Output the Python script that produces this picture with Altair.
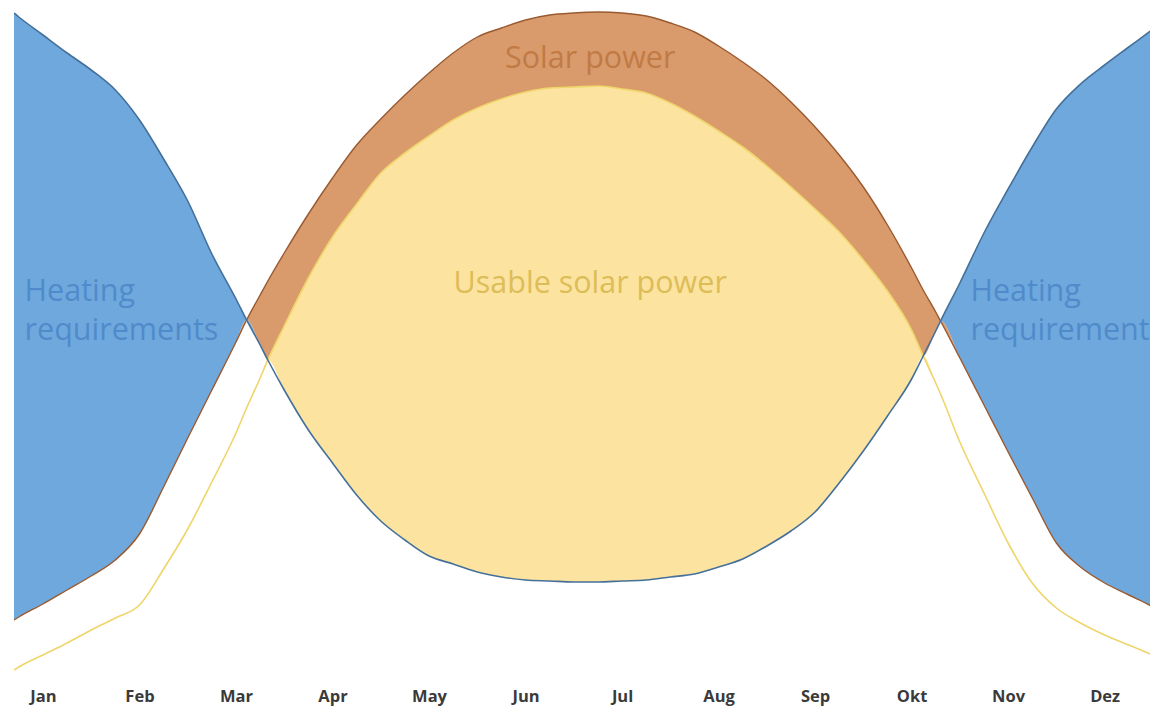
import altair as alt
import pandas as pd

# ---- data (month position, relative energy units) ----
months = ["Jan", "Feb", "Mar", "Apr", "May", "Jun", "Jul", "Aug", "Sep", "Okt", "Nov", "Dez"]

month_pos = [0.70, 0.75, 1.00, 1.25, 1.50, 1.75, 2.00, 2.25, 2.50, 2.75, 3.00, 3.11, 3.25, 3.33,
             3.50, 3.75, 4.00, 4.25, 4.50, 4.75, 5.00, 5.25, 5.50, 5.75, 6.00, 6.25, 6.50, 6.75,
             7.00, 7.25, 7.50, 7.75, 8.00, 8.25, 8.50, 8.75, 9.00, 9.25, 9.50, 9.75, 10.00, 10.12,
             10.25, 10.30, 10.50, 10.75, 11.00, 11.25, 11.50, 11.75, 12.00, 12.25, 12.50, 12.55]

heating = [67.5, 67.1, 65.3, 63.5, 61.8, 59.8, 56.8, 52.9, 48.7, 43.4, 38.9, 36.8, 34.3, 32.8,
           29.8, 25.8, 22.5, 19.3, 16.7, 14.8, 13.2, 12.4, 11.6, 11.1, 10.8, 10.7, 10.6, 10.6,
           10.7, 10.8, 11.1, 11.4, 12.1, 12.9, 14.2, 15.7, 17.6, 20.5, 23.7, 27.2, 30.9, 33.2,
           35.7, 36.7, 40.5, 45.5, 49.9, 54.1, 57.9, 60.4, 62.3, 64.1, 65.9, 66.3]

solar = [6.8, 7.1, 8.4, 9.8, 11.2, 12.8, 15.4, 20.1, 25.0, 29.8, 34.6, 36.8, 39.3, 40.7,
         43.5, 47.4, 51.0, 54.3, 56.9, 59.3, 61.5, 63.5, 65.1, 66.0, 66.8, 67.3, 67.5, 67.6,
         67.5, 67.2, 66.5, 65.6, 64.2, 62.6, 60.8, 58.6, 56.1, 53.3, 50.1, 46.3, 42.0, 39.8,
         37.6, 36.7, 33.0, 28.3, 23.6, 19.0, 14.5, 12.1, 10.5, 9.3, 8.1, 7.8]

usable = [1.8, 2.1, 3.3, 4.5, 5.8, 7.0, 8.3, 11.9, 15.9, 20.6, 25.5, 28.0, 31.0, 32.8,
          36.2, 41.0, 45.1, 48.4, 51.5, 53.5, 55.2, 56.8, 58.0, 58.9, 59.6, 60.0, 60.1, 60.2,
          59.9, 59.5, 58.5, 57.2, 55.7, 54.1, 52.2, 50.1, 47.9, 45.6, 42.8, 39.7, 35.8, 33.2,
          30.5, 29.4, 24.6, 19.5, 14.5, 10.5, 8.0, 6.5, 5.3, 4.3, 3.3, 3.1]

# annotation texts
heat_text = ["Heating", "requirements", "Heating", "requirements"]
heat_text_m = [0.81, 0.81, 10.61, 10.61]
heat_text_v = [38.7, 34.8, 38.7, 34.8]
solar_text = ["Solar power"]
solar_text_m = [6.67]
solar_text_v = [62.0]
usable_text = ["Usable solar power"]
usable_text_m = [6.67]
usable_text_v = [39.5]

df = pd.DataFrame({"m": month_pos, "heat": heating, "solar": solar, "usable": usable})

FONT = "Open Sans"
LBL_SIZE = 30.5
label_expr = "[" + ",".join("'%s'" % m for m in months) + "][round(datum.value) - 1]"

xscale = alt.Scale(domain=[0.7, 12.47], nice=False, zero=False)
yscale = alt.Scale(domain=[0, 68], nice=False, zero=True)

x_enc = alt.X("m:Q", scale=xscale, title=None,
              axis=alt.Axis(values=list(range(1, 13)), labelExpr=label_expr, domain=False,
                            ticks=False, grid=False, labelFont=FONT, labelFontSize=16.5,
                            labelFontWeight="bold", labelColor="#3a3a3a", labelPadding=0,
                            labelFlush=False, labelOverlap=False, title=None))

base = alt.Chart(df).transform_calculate(
    lowBlue="min(datum.heat, datum.solar)",
    lowOrange="min(datum.solar, max(datum.usable, datum.heat))",
    lowYellow="min(datum.usable, datum.heat)",
)

def yv(field):
    return alt.Y(field, scale=yscale, axis=None)

blue_area = base.mark_area(color="#6fa8dc", interpolate="monotone", clip=True).encode(
    x=x_enc, y=yv("heat:Q"), y2="lowBlue:Q")
orange_area = base.mark_area(color="#d99a6c", interpolate="monotone", clip=True).encode(
    x=x_enc, y=yv("solar:Q"), y2="lowOrange:Q")
yellow_area = base.mark_area(color="#fce3a0", interpolate="monotone", clip=True).encode(
    x=x_enc, y=yv("usable:Q"), y2="lowYellow:Q")

usable_line = base.mark_line(color="#efd56a", strokeWidth=1.6, interpolate="monotone", clip=True).encode(
    x=x_enc, y=yv("usable:Q"))
solar_line = base.mark_line(color="#9a5a30", strokeWidth=1.4, interpolate="monotone", clip=True).encode(
    x=x_enc, y=yv("solar:Q"))
heat_line = base.mark_line(color="#44709a", strokeWidth=1.6, interpolate="monotone", clip=True).encode(
    x=x_enc, y=yv("heat:Q"))

heat_lbl = alt.Chart(pd.DataFrame({"t": heat_text, "m": heat_text_m, "v": heat_text_v})).mark_text(
    font=FONT, fontSize=LBL_SIZE, color="#4f8bcb", align="left", baseline="alphabetic").encode(
    x=x_enc, y=yv("v:Q"), text="t:N")
solar_lbl = alt.Chart(pd.DataFrame({"t": solar_text, "m": solar_text_m, "v": solar_text_v})).mark_text(
    font=FONT, fontSize=LBL_SIZE, color="#c27a45", align="center", baseline="alphabetic").encode(
    x=x_enc, y=yv("v:Q"), text="t:N")
usable_lbl = alt.Chart(pd.DataFrame({"t": usable_text, "m": usable_text_m, "v": usable_text_v})).mark_text(
    font=FONT, fontSize=LBL_SIZE, color="#dcbd58", align="center", baseline="alphabetic").encode(
    x=x_enc, y=yv("v:Q"), text="t:N")

chart = alt.layer(
    blue_area, orange_area, yellow_area, usable_line, solar_line, heat_line,
    heat_lbl, solar_lbl, usable_lbl,
).properties(
    width=1136, height=680,
    padding={"left": 6, "top": 0, "right": 0, "bottom": 26},
    autosize=alt.AutoSizeParams(type="none"),
    background="white",
).configure_view(stroke=None)

chart.save("out.html", embed_options={"renderer": "svg", "actions": False})
